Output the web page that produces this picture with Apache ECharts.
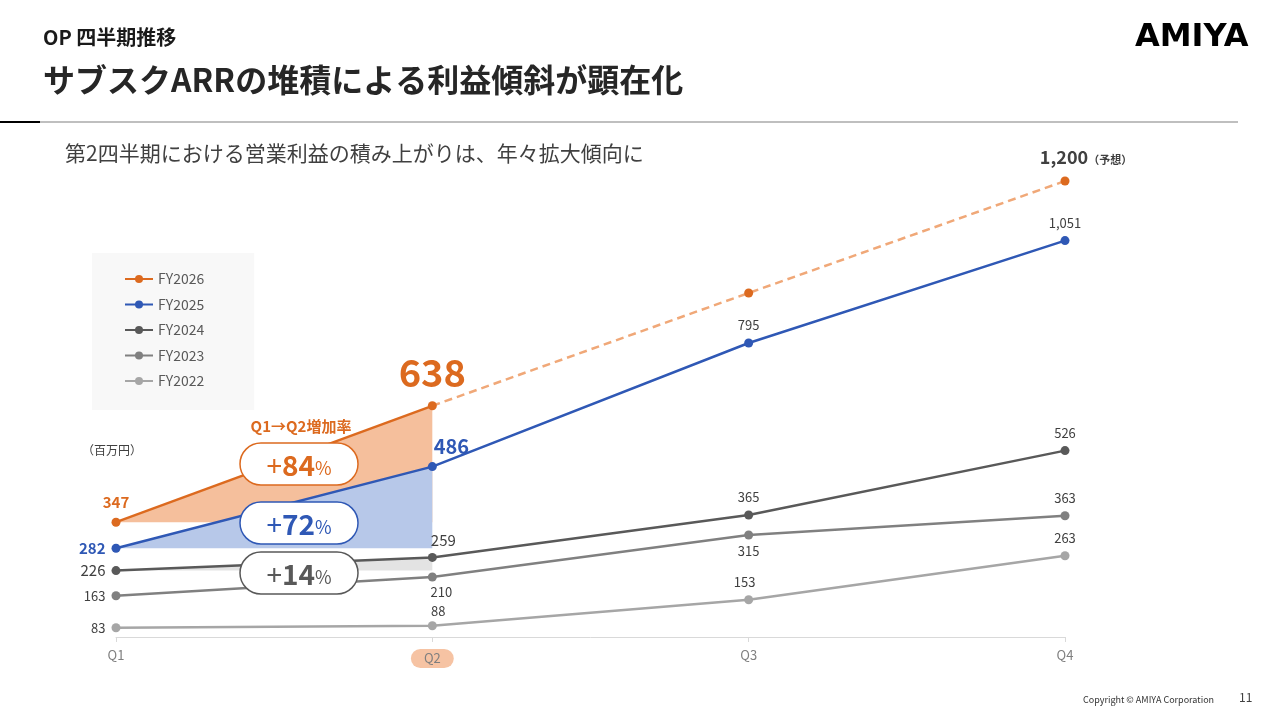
<!DOCTYPE html>
<html>
<head>
<meta charset="utf-8">
<script src="https://cdn.jsdelivr.net/npm/echarts@6/dist/echarts.min.js"></script>
<style>
  html, body { margin: 0; padding: 0; background: #fff; }
  #main { width: 1280px; height: 720px; }
</style>
</head>
<body>
<div id="main"></div>
<script>
// データ（百万円）
const quarters = ['Q1', 'Q2', 'Q3', 'Q4'];
const fy2026 = [347, 638, null, null];          // 実績
const fy2026Forecast = [null, 638, 920, 1200];  // 予想（Q3は読み取り値）
const fy2025 = [282, 486, 795, 1051];
const fy2024 = [226, 259, 365, 526];
const fy2023 = [163, 210, 315, 363];
const fy2022 = [83, 88, 153, 263];
const legendNames = ['FY2026', 'FY2025', 'FY2024', 'FY2023', 'FY2022'];
const growthRates = ['84', '72', '14']; // Q1→Q2増加率(%)

const FONT = '"Noto Sans CJK JP", "Noto Sans", sans-serif';
const ORANGE = '#dc6a1f';
const BLUE = '#2f58b5';
const DARK = '#595959';
const GRAY = '#808080';
const LIGHT = '#a6a6a6';

const chart = echarts.init(document.getElementById('main'));

function fmt(v) {
  return Number(v).toLocaleString('en-US');
}

// 各点のラベル設定を付けてデータ化
function withLabels(values, labelOpts) {
  return values.map(function (v, i) {
    if (v === null) return null;
    const opt = labelOpts[i];
    if (!opt) return { value: v, label: { show: false } };
    return { value: v, label: Object.assign({ show: true }, opt) };
  });
}

function lineSeries(name, values, color, labelOpts, extra) {
  return Object.assign({
    name: name,
    type: 'line',
    data: withLabels(values, labelOpts),
    symbol: 'circle',
    symbolSize: 9,
    lineStyle: { color: color, width: 2.5 },
    itemStyle: { color: color },
    label: {
      fontFamily: FONT,
      formatter: function (p) { return fmt(p.value); }
    },
    z: 5
  }, extra || {});
}

// Q1→Q2 の増分（Q1水準からの三角形）
function areaSeries(values, color, z) {
  const d = values.slice(0, 2);
  return {
    type: 'line',
    data: d,
    symbol: 'none',
    lineStyle: { width: 0 },
    areaStyle: { color: color, opacity: 1, origin: d[0] },
    silent: true,
    z: z
  };
}

// 増加率の角丸ボックス
function rateBox(y, rate, color) {
  return [
    { type: 'rect', z: 100, shape: { x: 240, y: y, width: 118, height: 42, r: 21 },
      style: { fill: '#fff', stroke: color, lineWidth: 1.5 } },
    { type: 'text', x: 299, y: y + 22, z: 101,
      style: {
        text: '{s|+}{n|' + rate + '}{p|%}', align: 'center', verticalAlign: 'middle',
        rich: {
          s: { font: '28px ' + FONT, fill: color },
          n: { font: 'bold 28px ' + FONT, fill: color },
          p: { font: '18px ' + FONT, fill: color, padding: [6, 0, 0, 0] }
        }
      } }
  ];
}

const small = { fontSize: 13, color: '#404040', distance: 7 };
const leftLbl = { position: 'left', distance: 6 };

const option = {
  animation: false,
  backgroundColor: '#ffffff',
  grid: { left: 116, right: 215, top: 141, bottom: 83 },
  legend: {
    data: legendNames,
    orient: 'vertical',
    left: 92,
    top: 253,
    padding: [19, 50, 22, 32],
    backgroundColor: '#f8f8f8',
    itemWidth: 28,
    itemHeight: 10,
    itemGap: 11.5,
    selectedMode: false,
    textStyle: { fontFamily: FONT, fontSize: 14, color: '#595959', lineHeight: 14 }
  },
  xAxis: {
    type: 'category',
    data: quarters,
    boundaryGap: false,
    axisLine: { lineStyle: { color: '#d9d9d9', width: 1 } },
    axisTick: { show: true, length: 5, lineStyle: { color: '#d9d9d9' } },
    axisLabel: {
      margin: 12,
      fontFamily: FONT,
      fontSize: 13,
      color: '#7f7f7f',
      formatter: function (v) { return v === 'Q2' ? '{hl|' + v + '}' : v; },
      rich: {
        hl: {
          fontFamily: FONT,
          fontSize: 13,
          color: '#7f7f7f',
          backgroundColor: '#f6c3a3',
          borderRadius: 10,
          padding: [3, 13, 3, 13]
        }
      }
    }
  },
  yAxis: {
    type: 'value',
    min: 60,
    max: 1300,
    show: false,
    splitLine: { show: false }
  },
  series: [
    areaSeries(fy2026, '#f5bf9c', 1),
    areaSeries(fy2025, '#b7c8e9', 2),
    areaSeries(fy2024, '#e3e3e3', 3),
    lineSeries('FY2022', fy2022, LIGHT, [
      Object.assign({}, small, leftLbl),
      Object.assign({}, small, { distance: 4, offset: [6, 0] }),
      Object.assign({}, small, { offset: [-4, 0] }),
      small
    ]),
    lineSeries('FY2023', fy2023, GRAY, [
      Object.assign({}, small, leftLbl),
      Object.assign({}, small, { position: 'bottom', distance: 4, offset: [9, 0] }),
      Object.assign({}, small, { position: 'bottom', distance: 5 }),
      small
    ]),
    lineSeries('FY2024', fy2024, DARK, [
      Object.assign({ fontSize: 15, color: '#404040' }, leftLbl),
      { fontSize: 15, color: '#404040', distance: 5, offset: [11, 0] },
      small, small
    ]),
    lineSeries('FY2025', fy2025, BLUE, [
      Object.assign({ fontSize: 15, fontWeight: 'bold', color: BLUE }, leftLbl),
      { fontSize: 20, fontWeight: 'bold', color: BLUE, distance: 6, offset: [19, 0] },
      small, small
    ]),
    lineSeries('FY2026', fy2026, ORANGE, [
      { fontSize: 15, fontWeight: 'bold', color: ORANGE, distance: 8 },
      { fontSize: 38, fontWeight: 'bold', color: ORANGE, distance: 10 }
    ]),
    lineSeries('FY2026予想', fy2026Forecast, ORANGE, [
      null, null, null,
      {
        distance: 10,
        offset: [21, 0],
        formatter: function (p) { return '{v|' + fmt(p.value) + '}{s|（予想）}'; },
        rich: {
          v: { fontFamily: FONT, fontSize: 18, fontWeight: 'bold', color: '#404040' },
          s: { fontFamily: FONT, fontSize: 11, fontWeight: 'bold', color: '#404040', padding: [4, 0, 0, 0] }
        }
      }
    ], {
      lineStyle: { color: '#f0a878', width: 2.5, type: [8, 5] },
      symbolSize: function (v, p) { return p.dataIndex === 1 ? 0 : 9; },
      z: 4
    })
  ],
  graphic: [
    // ヘッダー
    { type: 'text', left: 43, top: 27, z: 100,
      style: { text: 'OP 四半期推移', font: 'bold 20px ' + FONT, fill: '#1a1a1a' } },
    { type: 'text', left: 43, top: 64, z: 100,
      style: { text: 'サブスクARRの堆積による利益傾斜が顕在化', font: 'bold 32px ' + FONT, fill: '#262626' } },
    { type: 'text', left: 1135, top: 22, z: 100,
      style: { text: 'AMIYA', font: 'bold 32px "DejaVu Sans", sans-serif', fill: '#000' } },
    { type: 'line', z: 100, shape: { x1: 0, y1: 122, x2: 40, y2: 122 },
      style: { stroke: '#000', lineWidth: 2 } },
    { type: 'line', z: 100, shape: { x1: 40, y1: 122, x2: 1238, y2: 122 },
      style: { stroke: '#bfbfbf', lineWidth: 2 } },
    { type: 'text', left: 65, top: 143, z: 100,
      style: { text: '第2四半期における営業利益の積み上がりは、年々拡大傾向に', font: '21px ' + FONT, fill: '#404040' } },
    // 単位・注記
    { type: 'text', left: 82, top: 444, z: 100,
      style: { text: '（百万円）', font: '12px ' + FONT, fill: '#404040' } },
    { type: 'text', x: 301, y: 426, z: 100,
      style: { text: 'Q1→Q2増加率', font: 'bold 15px ' + FONT, fill: ORANGE, align: 'center', verticalAlign: 'middle' } }
  ]
    .concat(rateBox(443, growthRates[0], ORANGE))
    .concat(rateBox(502, growthRates[1], BLUE))
    .concat(rateBox(552, growthRates[2], '#595959'))
    .concat([
      // フッター
      { type: 'text', left: 1083, top: 695, z: 100,
        style: { text: 'Copyright © AMIYA Corporation', font: '9px ' + FONT, fill: '#333' } },
      { type: 'text', left: 1239, top: 691, z: 100,
        style: { text: '11', font: '12px ' + FONT, fill: '#404040' } }
    ])
};

chart.setOption(option);
</script>
</body>
</html>
